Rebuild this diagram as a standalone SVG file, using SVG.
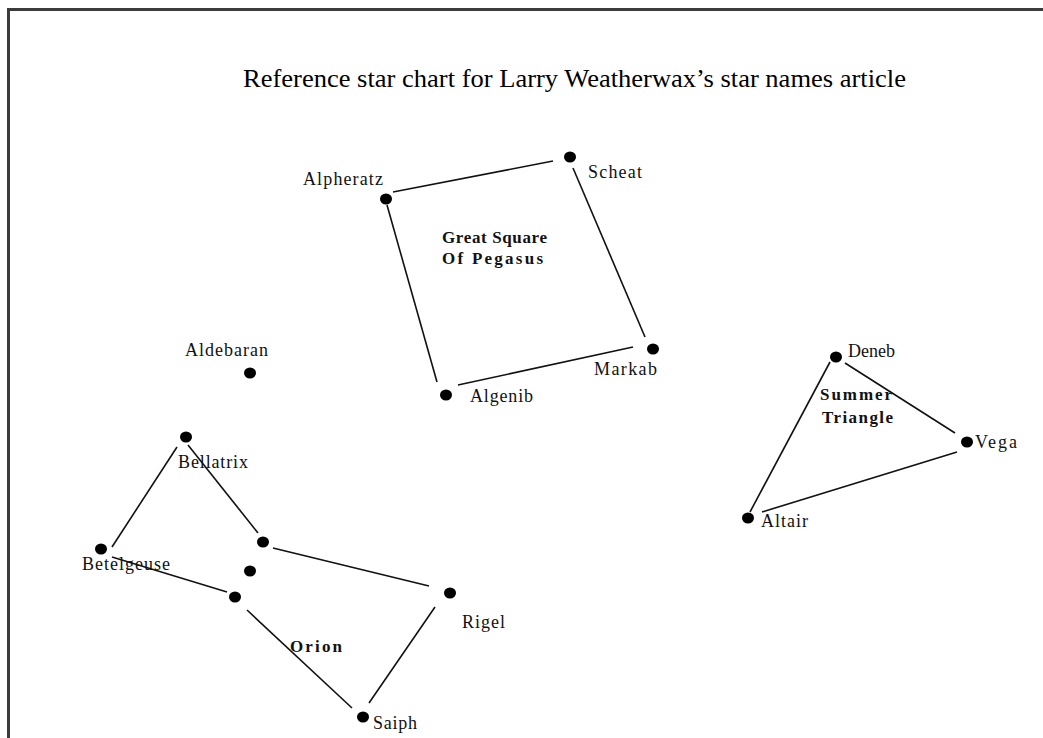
<svg xmlns="http://www.w3.org/2000/svg" width="1043" height="738" viewBox="0 0 1043 738">
<style>
.lbl{font-family:"Liberation Serif","Times New Roman",serif;font-size:18px;fill:#111}
.bold{font-family:"Liberation Serif","Times New Roman",serif;font-size:17px;font-weight:bold;fill:#111}
.title{font-family:"Liberation Serif","Times New Roman",serif;font-size:25px;fill:#000}
.ln{stroke:#111;stroke-width:1.6;fill:none}
.star{fill:#000}
</style>
<rect width="1043" height="738" fill="#fff"/>
<g id="frame">
<line x1="8.5" y1="9.5" x2="1043" y2="9.5" stroke="#3c3c3c" stroke-width="3"/>
<line x1="8.5" y1="8" x2="8.5" y2="738" stroke="#3c3c3c" stroke-width="3"/>
</g>
<text id="title" class="title" x="243" y="87" textLength="663" lengthAdjust="spacingAndGlyphs">Reference star chart for Larry Weatherwax’s star names article</text>
<g id="connectors">
<line class="ln" x1="393" y1="192" x2="553" y2="161"/>
<line class="ln" x1="387" y1="205" x2="437" y2="382"/>
<line class="ln" x1="573" y1="168" x2="645" y2="337"/>
<line class="ln" x1="458" y1="385" x2="633" y2="347"/>
<line class="ln" x1="177" y1="447" x2="112" y2="547"/>
<line class="ln" x1="188" y1="445" x2="258" y2="533"/>
<line class="ln" x1="273" y1="548" x2="429" y2="586"/>
<line class="ln" x1="112" y1="557" x2="227" y2="592"/>
<line class="ln" x1="247" y1="610" x2="352" y2="708"/>
<line class="ln" x1="435" y1="607" x2="369" y2="703"/>
<line class="ln" x1="845" y1="363" x2="955" y2="433"/>
<line class="ln" x1="957" y1="452" x2="762" y2="512"/>
<line class="ln" x1="830" y1="362" x2="750" y2="512"/>
</g>
<g id="scheat"><ellipse class="star" cx="570" cy="157" rx="6" ry="5.5"/><text class="lbl" x="588" y="178" textLength="54" lengthAdjust="spacing">Scheat</text></g>
<g id="alpheratz"><ellipse class="star" cx="386" cy="199" rx="6" ry="5.5"/><text class="lbl" x="303" y="185" textLength="80" lengthAdjust="spacing">Alpheratz</text></g>
<g id="markab"><ellipse class="star" cx="653" cy="349" rx="6" ry="5.5"/><text class="lbl" x="594" y="375" textLength="63" lengthAdjust="spacing">Markab</text></g>
<g id="algenib"><ellipse class="star" cx="446" cy="395" rx="6" ry="5.5"/><text class="lbl" x="470" y="402" textLength="63" lengthAdjust="spacing">Algenib</text></g>
<g id="pegasus-label"><text class="bold" x="442" y="243" textLength="105" lengthAdjust="spacing">Great Square</text><text class="bold" x="442" y="264" textLength="101" lengthAdjust="spacing">Of  Pegasus</text></g>
<g id="aldebaran"><ellipse class="star" cx="250" cy="373" rx="6" ry="5.5"/><text class="lbl" x="185" y="356" textLength="83" lengthAdjust="spacing">Aldebaran</text></g>
<g id="bellatrix"><ellipse class="star" cx="186" cy="437" rx="6" ry="5.5"/><text class="lbl" x="178" y="468" textLength="70" lengthAdjust="spacing">Bellatrix</text></g>
<g id="betelgeuse"><ellipse class="star" cx="101" cy="549" rx="6" ry="5.5"/><text class="lbl" x="82" y="570" textLength="88" lengthAdjust="spacing">Betelgeuse</text></g>
<g id="alnitak"><ellipse class="star" cx="263" cy="542" rx="6" ry="5.5"/></g>
<g id="alnilam"><ellipse class="star" cx="250" cy="571" rx="6" ry="5.5"/></g>
<g id="mintaka"><ellipse class="star" cx="235" cy="597" rx="6" ry="5.5"/></g>
<g id="rigel"><ellipse class="star" cx="450" cy="593" rx="6" ry="5.5"/><text class="lbl" x="462" y="628" textLength="43" lengthAdjust="spacing">Rigel</text></g>
<g id="saiph"><ellipse class="star" cx="363" cy="717" rx="6" ry="5.5"/><text class="lbl" x="373" y="729" textLength="44" lengthAdjust="spacing">Saiph</text></g>
<g id="orion-label"><text class="bold" x="290" y="652" textLength="52" lengthAdjust="spacing">Orion</text></g>
<g id="deneb"><ellipse class="star" cx="836" cy="357" rx="6" ry="5.5"/><text class="lbl" x="848" y="357" textLength="47" lengthAdjust="spacing">Deneb</text></g>
<g id="vega"><ellipse class="star" cx="967" cy="442" rx="6" ry="5.5"/><text class="lbl" x="975" y="448" textLength="42" lengthAdjust="spacing">Vega</text></g>
<g id="altair"><ellipse class="star" cx="748" cy="518" rx="6" ry="5.5"/><text class="lbl" x="761" y="527" textLength="47" lengthAdjust="spacing">Altair</text></g>
<g id="triangle-label"><text class="bold" x="820" y="400" textLength="72" lengthAdjust="spacing">Summer</text><text class="bold" x="822" y="423" textLength="71" lengthAdjust="spacing">Triangle</text></g>
</svg>
